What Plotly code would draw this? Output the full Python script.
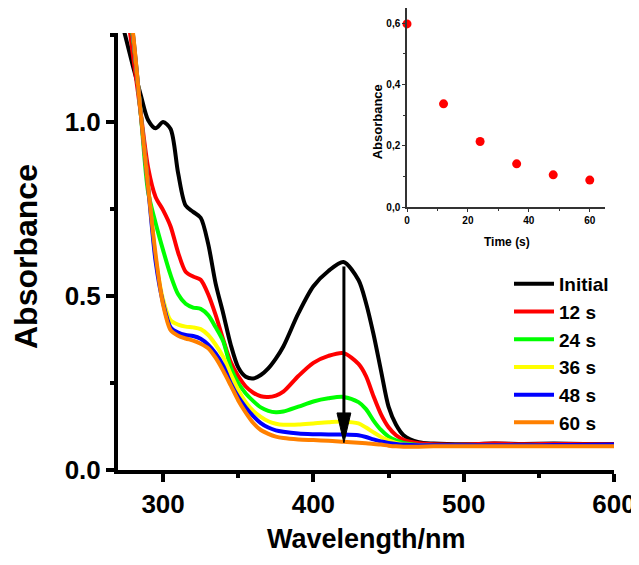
import plotly.graph_objects as go

# ---------------- data ----------------
wavelength = [270, 275, 280, 285, 290, 295, 300, 305, 310, 315, 320, 325, 330, 335, 340,
              345, 350, 355, 360, 365, 370, 375, 380, 390, 400, 410, 420, 430, 435, 440,
              445, 450, 455, 460, 470, 480, 500, 520, 540, 560, 580, 600]

abs_initial = [1.33, 1.245, 1.16, 1.08, 1.006, 0.982, 1.0, 0.98, 0.853, 0.76, 0.742, 0.725, 0.65, 0.535, 0.45,
               0.36, 0.295, 0.268, 0.263, 0.273, 0.292, 0.32, 0.355, 0.45, 0.528, 0.572, 0.598, 0.546, 0.48, 0.39,
               0.285, 0.182, 0.13, 0.1, 0.08, 0.076, 0.074, 0.076, 0.075, 0.076, 0.075, 0.075]
abs_12s = [1.45, 1.35, 1.19, 1.03, 0.87, 0.785, 0.747, 0.70, 0.625, 0.57, 0.556, 0.547, 0.505, 0.445, 0.375,
           0.31, 0.27, 0.24, 0.222, 0.212, 0.21, 0.214, 0.225, 0.27, 0.308, 0.328, 0.336, 0.305, 0.27, 0.212,
           0.16, 0.123, 0.1, 0.087, 0.077, 0.074, 0.073, 0.076, 0.074, 0.075, 0.074, 0.074]
abs_24s = [1.5, 1.38, 1.24, 1.03, 0.80, 0.71, 0.632, 0.56, 0.505, 0.478, 0.467, 0.463, 0.445, 0.41, 0.37,
           0.295, 0.25, 0.22, 0.198, 0.18, 0.17, 0.166, 0.168, 0.182, 0.197, 0.206, 0.21, 0.195, 0.175, 0.142,
           0.115, 0.096, 0.085, 0.078, 0.072, 0.07, 0.07, 0.07, 0.07, 0.07, 0.07, 0.07]
abs_36s = [1.55, 1.40, 1.25, 1.03, 0.82, 0.61, 0.49, 0.43, 0.418, 0.412, 0.41, 0.405, 0.388, 0.36, 0.325,
           0.275, 0.23, 0.195, 0.17, 0.153, 0.14, 0.133, 0.13, 0.131, 0.134, 0.137, 0.139, 0.134, 0.122, 0.108,
           0.095, 0.085, 0.078, 0.074, 0.071, 0.07, 0.07, 0.07, 0.07, 0.07, 0.07, 0.07]
abs_48s = [1.58, 1.41, 1.25, 1.03, 0.815, 0.60, 0.48, 0.41, 0.395, 0.388, 0.385, 0.377, 0.36, 0.335, 0.30,
           0.25, 0.21, 0.18, 0.155, 0.135, 0.122, 0.114, 0.11, 0.105, 0.103, 0.102, 0.102, 0.1, 0.095, 0.088,
           0.082, 0.078, 0.075, 0.073, 0.071, 0.071, 0.071, 0.071, 0.071, 0.072, 0.072, 0.073]
abs_60s = [1.6, 1.42, 1.255, 1.03, 0.815, 0.62, 0.475, 0.402, 0.386, 0.378, 0.372, 0.363, 0.35, 0.322, 0.285,
           0.243, 0.2, 0.165, 0.135, 0.115, 0.104, 0.096, 0.092, 0.088, 0.086, 0.084, 0.081, 0.078, 0.077, 0.075,
           0.073, 0.07, 0.068, 0.067, 0.067, 0.068, 0.068, 0.068, 0.068, 0.068, 0.068, 0.068]

series_names = ["Initial", "12 s", "24 s", "36 s", "48 s", "60 s"]
series_values = [abs_initial, abs_12s, abs_24s, abs_36s, abs_48s, abs_60s]
series_colors = ["#000000", "#FF0000", "#00FF00", "#FFFF00", "#0000FF", "#FF8000"]

# inset: absorbance at 420 nm vs time
time_s = [0, 12, 24, 36, 48, 60]
abs_420 = [0.598, 0.337, 0.214, 0.141, 0.105, 0.088]

# arrow (data units)
ARROW_X = 420.3
ARROW_TOP = 0.585
ARROW_TIP = 0.078
HEAD_LEN = 0.086
HEAD_HALF = 4.6

FONT = "Liberation Sans, Arial, sans-serif"

# The page body has an 8px margin, so the figure is drawn 8px smaller and
# everything is laid out in figure coordinates (page coordinate - 8).
W, H = 631, 557
PL, PR, PT, PB = 110, 606, 0, 462      # plot area in figure px
PW, PH = PR - PL, PB - PT


def px_x(px):
    return (px - PL) / PW


def px_y(py):
    return (PB - py) / PH


fig = go.Figure()

for name, vals, col in zip(series_names, series_values, series_colors):
    fig.add_trace(go.Scatter(
        x=wavelength, y=vals, mode="lines", name=name,
        line=dict(color=col, width=4, shape="spline", smoothing=0.8),
        xaxis="x", yaxis="y",
    ))

fig.add_trace(go.Scatter(
    x=time_s, y=abs_420, mode="markers", showlegend=False,
    marker=dict(color="#FF0000", size=9, line=dict(width=0)),
    xaxis="x2", yaxis="y2", cliponaxis=False,
))

fig.update_layout(
    width=W, height=H,
    margin=dict(l=PL, r=W - PR, t=PT, b=H - PB, pad=0),
    paper_bgcolor="white", plot_bgcolor="white",
    showlegend=True,
    legend=dict(
        x=px_x(501), xanchor="left", y=px_y(257), yanchor="top",
        bgcolor="rgba(0,0,0,0)", borderwidth=0,
        font=dict(family=FONT, size=19, color="black", weight="bold"),
        tracegroupgap=0, itemwidth=40,
    ),
    xaxis=dict(
        domain=[0, 1], range=[270, 600], anchor="y",
        showline=True, linecolor="black", linewidth=4,
        ticks="outside", ticklen=8, tickwidth=4, tickcolor="black",
        dtick=100, tick0=0,
        minor=dict(ticks="outside", ticklen=4, tickwidth=4, tickcolor="black", dtick=50, tick0=0),
        showgrid=False, zeroline=False,
        tickfont=dict(family=FONT, size=26, color="black", weight="bold"),
    ),
    yaxis=dict(
        domain=[0, px_y(25)], range=[0, 1.256], anchor="x",
        showline=True, linecolor="black", linewidth=4,
        ticks="outside", ticklen=8, tickwidth=4, tickcolor="black",
        dtick=0.5, tick0=0, tickformat=".1f",
        minor=dict(ticks="outside", ticklen=4, tickwidth=4, tickcolor="black", dtick=0.25, tick0=0),
        showgrid=False, zeroline=False,
        tickfont=dict(family=FONT, size=26, color="black", weight="bold"),
    ),
    xaxis2=dict(
        domain=[px_x(399), px_x(597)], range=[0, 65], anchor="y2",
        showline=True, linecolor="#333333", linewidth=1.5,
        ticks="outside", ticklen=3, tickwidth=1, tickcolor="#333333",
        tickvals=[0, 20, 40, 60], ticktext=["0", "20", "40", "60"],
        minor=dict(ticks="outside", ticklen=2, tickwidth=1, tickcolor="#333333", tickvals=[10, 30, 50]),
        showgrid=False, zeroline=False,
        tickfont=dict(family=FONT, size=10, color="black", weight="bold"),
    ),
    yaxis2=dict(
        domain=[px_y(199), 1.0], range=[0, 0.65], anchor="x2",
        showline=True, linecolor="#333333", linewidth=1.5,
        ticks="outside", ticklen=3, tickwidth=1, tickcolor="#333333",
        tickvals=[0, 0.2, 0.4, 0.6], ticktext=["0,0", "0,2", "0,4", "0,6"],
        minor=dict(ticks="outside", ticklen=2, tickwidth=1, tickcolor="#333333", tickvals=[0.1, 0.3, 0.5]),
        showgrid=False, zeroline=False,
        tickfont=dict(family=FONT, size=10, color="black", weight="bold"),
    ),
)

# axis titles as annotations (pixel-accurate placement)
fig.add_annotation(
    text="Wavelength/nm", xref="paper", yref="paper", x=0.5, y=px_y(548),
    xanchor="center", yanchor="bottom", showarrow=False,
    font=dict(family=FONT, size=27, color="black", weight="bold"),
)
fig.add_annotation(
    text="Absorbance", xref="paper", yref="paper", x=px_x(18), y=px_y(249),
    xanchor="center", yanchor="middle", textangle=-90, showarrow=False, borderpad=0,
    font=dict(family=FONT, size=32, color="black", weight="bold"),
)
fig.add_annotation(
    text="Time (s)", xref="paper", yref="paper", x=px_x(498.7), y=px_y(234),
    xanchor="center", yanchor="middle", showarrow=False,
    font=dict(family=FONT, size=12, color="black", weight="bold"),
)
fig.add_annotation(
    text="Absorbance", xref="paper", yref="paper", x=px_x(370.3), y=px_y(114),
    xanchor="center", yanchor="middle", textangle=-90, showarrow=False,
    font=dict(family=FONT, size=13, color="black", weight="bold"),
)

# arrow
fig.add_shape(type="line", xref="x", yref="y",
              x0=ARROW_X, x1=ARROW_X, y0=ARROW_TOP, y1=ARROW_TIP + HEAD_LEN * 0.7,
              line=dict(color="black", width=3))
fig.add_shape(type="path", xref="x", yref="y",
              path=(f"M {ARROW_X - HEAD_HALF},{ARROW_TIP + HEAD_LEN} L {ARROW_X},{ARROW_TIP} "
                    f"L {ARROW_X + HEAD_HALF},{ARROW_TIP + HEAD_LEN} Z"),
              fillcolor="black", line=dict(color="black", width=1))

fig.write_html("out.html")
